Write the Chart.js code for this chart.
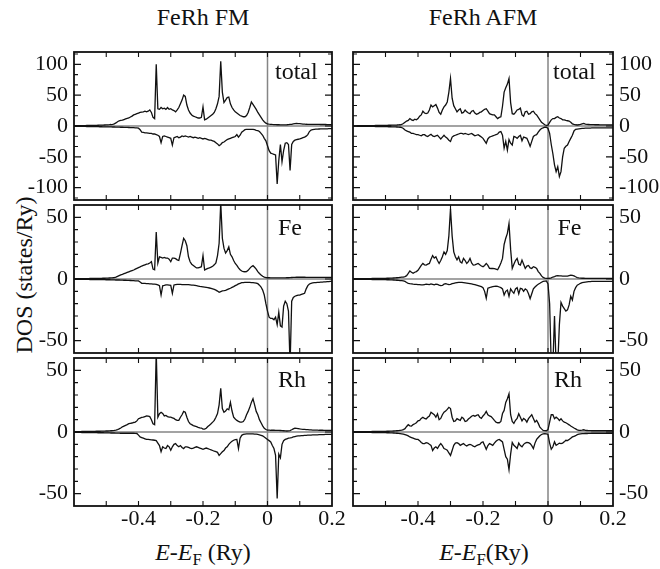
<!DOCTYPE html>
<html>
<head>
<meta charset="utf-8">
<script src="https://cdn.jsdelivr.net/npm/chart.js@4.4.1/dist/chart.umd.min.js"></script>
<style>
  body { margin: 0; background: #fff; }
  #page { position: relative; width: 660px; height: 569px; overflow: hidden; font-family: "Liberation Serif", "Times New Roman", Times, "DejaVu Serif", serif; color: #111; }
  #page canvas { position: absolute; }
  .txt { position: absolute; font-size: 24px; line-height: 24px; white-space: nowrap; text-align: center; }
  .txt sub { font-size: 70%; vertical-align: -0.3em; line-height: 0; }
</style>
</head>
<body>
<div id="page">
  <div class="txt" style="left:103px;top:5px;width:200px">FeRh FM</div>
  <div class="txt" style="left:383px;top:5px;width:200px">FeRh AFM</div>
  <div class="txt" style="left:-76px;top:263px;width:200px;transform:rotate(-90deg)">DOS (states/Ry)</div>
  <div class="txt" style="left:103px;top:540px;width:200px"><i>E</i>-<i>E</i><sub>F</sub> (Ry)</div>
  <div class="txt" style="left:384px;top:540px;width:200px"><i>E</i>-<i>E</i><sub>F</sub>(Ry)</div>
</div>
<script>
// energia relativa ao nivel de Fermi (Ry)
const energy = [
  -0.600,-0.595,-0.590,-0.585,-0.580,-0.575,-0.570,-0.565,-0.560,-0.555,
  -0.550,-0.545,-0.540,-0.535,-0.530,-0.525,-0.520,-0.515,-0.510,-0.505,
  -0.500,-0.495,-0.490,-0.485,-0.480,-0.475,-0.470,-0.465,-0.460,-0.455,
  -0.450,-0.445,-0.440,-0.435,-0.430,-0.425,-0.420,-0.415,-0.410,-0.405,
  -0.400,-0.395,-0.390,-0.385,-0.380,-0.375,-0.370,-0.365,-0.360,-0.355,
  -0.350,-0.345,-0.340,-0.335,-0.330,-0.325,-0.320,-0.315,-0.310,-0.305,
  -0.300,-0.295,-0.290,-0.285,-0.280,-0.275,-0.270,-0.265,-0.260,-0.255,
  -0.250,-0.245,-0.240,-0.235,-0.230,-0.225,-0.220,-0.215,-0.210,-0.205,
  -0.200,-0.195,-0.190,-0.185,-0.180,-0.175,-0.170,-0.165,-0.160,-0.155,
  -0.150,-0.145,-0.140,-0.135,-0.130,-0.125,-0.120,-0.115,-0.110,-0.105,
  -0.100,-0.095,-0.090,-0.085,-0.080,-0.075,-0.070,-0.065,-0.060,-0.055,
  -0.050,-0.045,-0.040,-0.035,-0.030,-0.025,-0.020,-0.015,-0.010,-0.005,
  0.000,0.005,0.010,0.015,0.020,0.025,0.030,0.035,0.040,0.045,
  0.050,0.055,0.060,0.065,0.070,0.075,0.080,0.085,0.090,0.095,
  0.100,0.105,0.110,0.115,0.120,0.125,0.130,0.135,0.140,0.145,
  0.150,0.155,0.160,0.165,0.170,0.175,0.180,0.185,0.190,0.195,
  0.200
];

// FeRh FM, total (spin up / spin down)
const fmTotUp = [
  0.5,0.5,0.5,0.6,0.6,0.6,0.7,0.7,0.8,0.8,
  0.9,0.9,1.0,1.0,1.1,1.2,1.3,1.4,1.5,1.6,
  1.7,1.9,2.1,2.4,2.8,3.5,5,7,8.5,9,
  9.5,10.5,11.5,12.5,13,14.5,16,18,19,20,
  21,22,22.5,23,24,23,24,26,22,14,
  12,100,28,27,30,28,29,27,30,27,
  28,26,25,23,26,30,36,42,50,48,
  34,26,21,18,16,15,14,13,13,14,
  31,10,11,13,15,17,19,22,28,36,
  48,105,55,38,42,46,47,36,30,26,
  23,21,19,17,16,15,15,17,22,30,
  39,35,31,27,22,18,14,10,7,4.5,
  3.5,3,2.8,2.5,2.3,2.2,2,2,1.8,1.8,
  1.8,1.9,2,2.2,2.5,2.8,3.5,4,4.2,4,
  3.8,3.5,3.2,3,2.8,2.7,2.6,2.6,2.5,2.5,
  2.5,2.5,2.5,2.4,2.4,2.4,2.4,2.3,2.3,2.3,
  2.3
];
const fmTotDn = [
  -0.5,-0.5,-0.5,-0.6,-0.6,-0.6,-0.7,-0.7,-0.8,-0.8,
  -0.9,-0.9,-1,-1,-1.1,-1.1,-1.2,-1.2,-1.3,-1.3,
  -1.4,-1.4,-1.5,-1.5,-1.6,-1.6,-1.7,-1.8,-1.9,-2,
  -2,-2.1,-2.2,-2.3,-2.4,-2.5,-2.6,-2.8,-3,-3,
  -3.5,-6,-10,-10.5,-11,-11,-11.5,-12,-12,-13,
  -13,-14,-15,-17,-27,-17,-16,-17,-18,-19,
  -20,-31,-19,-18,-17,-19,-18,-16,-17,-16,
  -17,-18,-17,-18,-19,-18,-19,-20,-19,-20,
  -21,-20,-21,-22,-23,-23,-24,-25,-27,-29,
  -32,-30,-27,-26,-24,-22,-21,-20,-19,-18,
  -17,-14,-18,-15,-10,-8,-6,-5.5,-5.4,-5.4,
  -5.4,-5.5,-6,-7,-7.5,-9,-12,-15,-20,-24,
  -32,-40,-44,-45,-46,-47,-94,-56,-30,-58,
  -40,-28,-27,-30,-72,-30,-25,-23,-22,-21.5,
  -21,-20,-19,-18,-16.5,-14,-9,-6.5,-6,-5.5,
  -5.2,-5,-4.9,-4.8,-4.7,-4.6,-4.5,-4.5,-4.4,-4.4,
  -4.3
];

// FeRh AFM, total
const afmTotUp = [
  0.3,0.3,0.3,0.4,0.4,0.4,0.5,0.5,0.5,0.6,
  0.6,0.6,0.7,0.7,0.8,0.8,0.9,0.9,1,1,
  1.1,1.1,1.2,1.2,1.3,1.4,1.5,1.6,1.8,2,
  2.5,4,6,8,9,12,10,9,11,10,
  12,16,18,24,21,20,21,26,34,31,
  33,35,29,22,19,26,31,34,39,55,
  77,45,33,28,23,26,28,21,22,26,
  23,21,20,24,25,21,19,20,22,23,
  25,27,28,24,20,19,18,18,15,12,
  14,15,32,55,62,68,77,38,20,19,
  22,26,27,29,18,16,23,24,19,20,
  23,24,20,18,14,10,6,4,2,1,
  1.5,6,10,12,12,14,15,13,12,10,
  10,9,8.5,8,6,3.5,2.5,2,1.6,2,
  2.5,3.5,4.2,3,2.5,2.4,2.3,2.2,2.1,2,
  2,2,1.9,1.9,1.9,1.8,1.8,1.8,1.8,1.8,
  1.8
];
const afmTotDn = [
  -0.3,-0.3,-0.3,-0.4,-0.4,-0.4,-0.5,-0.5,-0.5,-0.6,
  -0.6,-0.6,-0.7,-0.7,-0.8,-0.8,-0.9,-0.9,-1,-1,
  -1.1,-1.1,-1.2,-1.2,-1.3,-1.4,-1.5,-1.6,-1.8,-2,
  -2.5,-4,-6.5,-8,-9,-10,-12,-12,-13,-14,
  -14,-15,-16,-14,-14,-16,-17,-15,-13.5,-16,
  -17,-16,-15,-18,-21,-18,-15,-18,-20,-23,
  -25,-18,-16,-15,-14,-13,-12,-12,-13,-12,
  -13,-14,-13,-12,-14,-16,-15,-14,-16,-18,
  -20,-24,-28,-21,-18,-17,-16,-15,-14,-13,
  -10,-9,-15,-36,-25,-39,-22,-28,-31,-17,
  -18,-20,-17,-15,-24,-18,-19,-20,-26,-33,
  -25,-17,-15,-14,-10,-6.5,-4,-3,-2,-2,
  -4,-12,-30,-45,-63,-74,-66,-82,-74,-50,
  -36,-33,-31,-25,-20,-15,-8,-5.5,-5,-4.5,
  -4.2,-4,-3.8,-3.6,-3.5,-3.4,-3.3,-3.2,-3.1,-3,
  -3,-3,-3,-3,-3,-3,-3,-3,-3,-3,
  -3
];

// FeRh FM, Fe
const fmFeUp = [
  0.2,0.2,0.2,0.2,0.3,0.3,0.3,0.3,0.3,0.3,
  0.4,0.4,0.4,0.4,0.4,0.5,0.5,0.5,0.6,0.6,
  0.7,0.7,0.8,0.9,1,1.2,1.6,2.2,2.8,3.4,
  3.8,4.3,4.8,5.3,5.8,6.3,6.8,7.3,8,8.6,
  9.2,9.8,10.5,11,11.5,12,12.3,13,14,8,
  7.5,38,13,18,17.5,17,17.5,17,17,16,
  14,17,17,16.5,15.5,15,20.7,27,33,31,
  27,18,14,12,11,10,9,9,9.5,10,
  19,7.3,8,8.6,9,9.6,10.3,11.5,13,19,
  29,62,33,25,21,23,26,20,18,15,
  12.6,11,9,7.5,6.5,6,5.9,6,7,8.6,
  10,10.8,9.5,8,6,4.5,3.2,2.2,1.5,1.2,
  1,1,0.9,0.9,0.9,0.9,0.9,0.9,0.9,0.9,
  0.9,0.9,1,1,1.1,1.2,1.3,1.3,1.4,1.4,
  1.4,1.4,1.4,1.4,1.3,1.3,1.3,1.3,1.3,1.3,
  1.3,1.3,1.3,1.3,1.3,1.3,1.3,1.3,1.3,1.3,
  1.3
];
const fmFeDn = [
  -0.2,-0.2,-0.2,-0.2,-0.3,-0.3,-0.3,-0.3,-0.3,-0.3,
  -0.4,-0.4,-0.4,-0.4,-0.4,-0.5,-0.5,-0.5,-0.5,-0.5,
  -0.6,-0.6,-0.6,-0.7,-0.7,-0.7,-0.8,-0.8,-0.8,-0.9,
  -0.9,-1,-1,-1.1,-1.1,-1.2,-1.3,-1.4,-1.5,-1.6,
  -1.6,-2.5,-3.5,-3.6,-3.6,-3.7,-3.8,-3.9,-4,-4.1,
  -4.2,-4.3,-4.8,-5.4,-13,-5.5,-5.2,-4.8,-4.8,-5,
  -5.2,-11.6,-4.8,-4.5,-4.3,-4.3,-4.4,-4.6,-4.5,-4.5,
  -4.5,-4.6,-4.7,-4.9,-5,-5.2,-5.4,-5.7,-6,-6.2,
  -6.4,-6.6,-6.8,-7,-7.3,-7.6,-8,-8.4,-9,-9.8,
  -10.8,-10.2,-9.7,-9.5,-9.2,-8.6,-8,-7.5,-6.8,-6.2,
  -5.4,-4.8,-4,-3.5,-3,-2.9,-2.8,-2.8,-2.8,-2.8,
  -2.9,-3,-3.1,-3.3,-3.8,-5,-6.5,-9,-13,-20,
  -26,-31,-32,-32,-33,-31,-37,-27,-38,-39,
  -22,-18,-20,-26,-70,-18,-15,-14,-13.5,-13,
  -13,-12.5,-12,-11.6,-8,-5.4,-4,-3.5,-3.2,-3,
  -2.9,-2.8,-2.7,-2.6,-2.5,-2.4,-2.3,-2.2,-2.1,-2,
  -2
];

// FeRh AFM, Fe
const afmFeUp = [
  0.2,0.2,0.2,0.2,0.2,0.3,0.3,0.3,0.3,0.3,
  0.3,0.3,0.4,0.4,0.4,0.4,0.4,0.5,0.5,0.5,
  0.5,0.6,0.6,0.7,0.7,0.8,0.9,1,1.1,1.3,
  1.5,1.6,2,2.7,4.5,6.5,5.5,4.6,5.5,6,
  7,9,11,12.6,11.5,11.3,12,12.6,16,19,
  17,18,15,12.6,15,18,22,20,23,35,
  57,35,22,18,15.5,18,14,13,16.7,15,
  12.6,14,16.7,13,11.3,11.5,12,12.6,11.5,10.5,
  10,11,12.6,11,8.6,8.5,8.6,8.4,8,7.5,
  10,13,16.7,28,33,37,45,24,8.6,12,
  15,16.7,12,11.3,15.3,12,8.6,10.5,11,9,
  8.6,10,9.5,8.6,6,4.6,2.5,1.3,0.8,0.5,
  0.5,0.6,1,1.6,2,2.5,2.7,2.6,2.5,2.4,
  2.3,2.3,2.4,2.8,3.2,3,2.5,1.8,1.2,0.9,
  0.7,0.6,0.6,0.5,0.5,0.5,0.5,0.5,0.5,0.5,
  0.5,0.5,0.5,0.5,0.5,0.5,0.5,0.5,0.5,0.5,
  0.5
];
const afmFeDn = [
  -0.2,-0.2,-0.2,-0.2,-0.2,-0.3,-0.3,-0.3,-0.3,-0.3,
  -0.3,-0.3,-0.4,-0.4,-0.4,-0.4,-0.4,-0.5,-0.5,-0.5,
  -0.5,-0.6,-0.6,-0.7,-0.7,-0.8,-0.9,-1,-1.1,-1.3,
  -1.4,-1.6,-2,-2.8,-3.5,-3.8,-4,-4.2,-4.3,-4.3,
  -4.5,-4.6,-4.8,-4.8,-4.5,-4.2,-4.3,-4.6,-4,-4.4,
  -4.8,-4.2,-4.3,-4.9,-5.4,-5.2,-4.2,-3.8,-4.2,-4.5,
  -4.3,-3.8,-3.5,-3.2,-2.9,-2.7,-2.7,-2.8,-3,-3.2,
  -3.4,-3.6,-3.8,-4,-4.3,-4.6,-5,-5.4,-5.8,-6.2,
  -7,-10,-15.6,-7.5,-7,-6.5,-6.2,-6,-5.8,-6,
  -6.5,-7,-8,-13,-10,-9,-14,-8,-10,-11.6,
  -8,-7,-12,-7.5,-8,-10,-8,-9,-12,-16,
  -12,-8,-6.5,-5.2,-4.3,-3.5,-2.6,-2,-1.8,-1.6,
  -4,-20,-70,-70,-30,-70,-70,-37,-19,-22,
  -24,-26,-25,-21,-14,-17,-10,-7,-5,-4.3,
  -3.5,-3,-2.7,-2.5,-2.3,-2.2,-2.1,-2,-2,-2,
  -2,-2,-2,-2,-2,-2,-2,-2,-2,-2,
  -2
];

// FeRh FM, Rh
const fmRhUp = [
  0.3,0.3,0.3,0.3,0.3,0.4,0.4,0.4,0.4,0.4,
  0.5,0.5,0.5,0.5,0.6,0.6,0.6,0.7,0.7,0.7,
  0.8,0.8,0.9,1,1.1,1.3,1.6,2,2.5,3.3,
  4.2,4.8,5.4,6,6.7,7,7.3,7.7,8,9,
  10.8,11.3,11.8,12,12.5,13,12.8,12.5,10,6.7,
  6,65,12,14.8,16,15,13,13.4,12.5,12,
  12,11.5,11,10,9.4,9.4,12,14,16.7,16,
  12,8.5,6.7,6,5.2,4.8,4.3,3.8,3.4,3.2,
  2.4,2.3,3,4.5,5.5,6.7,8,9.4,12,15,
  22,35.5,19,16,17,18.8,18,24,17,12,
  10.5,9.4,8.6,8,8,8.5,10.5,14,16.7,20,
  24,27,22,16.7,14,10,7.5,5,3,2,
  1.6,1.5,1.4,1.4,1.4,1.3,1.3,1.3,1.2,1.1,
  1,0.9,0.8,0.9,1.2,1.8,2.5,3.2,3,2.8,
  2.5,2.3,2.2,2.1,2,1.9,1.8,1.7,1.6,1.6,
  1.5,1.5,1.4,1.4,1.4,1.3,1.3,1.3,1.3,1.3,
  1.3
];
const fmRhDn = [
  -0.3,-0.3,-0.3,-0.3,-0.3,-0.4,-0.4,-0.4,-0.4,-0.4,
  -0.5,-0.5,-0.5,-0.5,-0.5,-0.6,-0.6,-0.6,-0.6,-0.7,
  -0.7,-0.7,-0.7,-0.8,-0.8,-0.8,-0.9,-0.9,-0.9,-1,
  -1,-1,-1,-1,-1,-1,-1,-1,-1.1,-1.2,
  -2.5,-4,-4.5,-5,-5.5,-6,-6,-6.2,-6.4,-6.5,
  -6.7,-7,-9,-11,-16,-12,-13,-13.4,-11,-12,
  -14.8,-12,-10,-9.4,-11,-12,-11,-12.5,-13.4,-12,
  -12,-12.5,-13,-13.4,-13,-12.5,-12,-12.5,-13,-13.5,
  -14,-13.5,-13,-13.5,-14,-14.5,-15,-15.6,-16,-16.5,
  -19,-17.5,-16,-15,-13,-12,-10,-8.6,-7.5,-6.7,
  -6.2,-6,-13.4,-5,-2.7,-2,-1.7,-1.6,-1.6,-1.6,
  -1.6,-1.6,-1.7,-1.8,-2,-2.3,-2.7,-3.2,-4,-5,
  -6,-7,-8,-11,-13.4,-19,-54,-18,-21,-10,
  -7,-6,-5.5,-5,-4.8,-4.5,-4,-3.7,-3.4,-3.2,
  -3.1,-3,-2.9,-2.8,-2.7,-2.6,-2.5,-2.5,-2.4,-2.4,
  -2.3,-2.3,-2.2,-2.2,-2.1,-2.1,-2,-2,-2,-2,
  -2
];

// FeRh AFM, Rh
const afmRhUp = [
  0.2,0.2,0.2,0.2,0.2,0.3,0.3,0.3,0.3,0.3,
  0.3,0.3,0.4,0.4,0.4,0.4,0.4,0.5,0.5,0.5,
  0.5,0.6,0.6,0.7,0.7,0.8,0.9,1,1.1,1.3,
  1.5,2,2.7,4.5,5.9,5,4.8,6,6.7,7.5,
  9,9.4,11,12,11,10.5,12,13,16,15,
  14,12,14.8,10,11,14,16,17,18.3,20,
  19,12,8.5,9,10.8,10,9.4,12,11,8.5,
  9,10.5,11.5,12.8,13.4,12.8,13.5,14,12,11,
  13,14.5,16.7,14,13,12.5,11,9.4,8,7.5,
  7.5,8.6,15,17.5,24,27,31,14,8.5,7,
  9.5,11,14.8,12,9,11,10,8,10.8,12.5,
  14,11,8,9.4,7,4,2.5,1.3,1.1,1,
  2,8,14,14,10.8,12,11,9.4,10.8,9,
  8,7.5,6.7,5.8,4.8,4,3.2,2.5,1.8,1.4,
  1.3,1.5,1.8,1.3,1.2,1.1,1.1,1,1,1,
  1,1,1,1,1,1,1,1,1,1,
  1
];
const afmRhDn = [
  -0.2,-0.2,-0.2,-0.2,-0.2,-0.3,-0.3,-0.3,-0.3,-0.3,
  -0.3,-0.3,-0.4,-0.4,-0.4,-0.4,-0.4,-0.5,-0.5,-0.5,
  -0.5,-0.6,-0.6,-0.7,-0.7,-0.8,-0.9,-1,-1.1,-1.3,
  -1.5,-1.8,-2.2,-2.6,-3.2,-4,-4.5,-5,-5.5,-6,
  -6,-7,-8.5,-9.4,-9.4,-8.6,-9,-10,-10.8,-15,
  -13,-12,-13.4,-11,-9.4,-11,-13.4,-14,-14.8,-17,
  -19,-15,-10.8,-9,-8.6,-9.4,-10.8,-10,-9.4,-10.5,
  -11.3,-10.5,-10,-10.5,-11.5,-12,-11,-10.5,-10,-8.5,
  -8,-11,-14,-11,-9.4,-10,-10.8,-9,-7.5,-6.5,
  -6,-7,-8,-14,-20,-22,-30.6,-18,-8.5,-10.8,
  -12,-13.4,-9,-11,-12,-10,-9,-8.5,-8.6,-9.4,
  -11,-13.4,-9,-6,-4.5,-3,-2,-1.5,-1.3,-1.5,
  -2,-9,-14,-12,-8,-10.8,-10,-9,-9.4,-9,
  -8,-6.7,-7,-6,-5,-4,-3.5,-3,-2.2,-1.8,
  -1.5,-1.3,-1.3,-1.2,-1.2,-1.1,-1.1,-1,-1,-1,
  -1,-1,-1,-1,-1,-1,-1,-1,-1,-1,
  -1
];

// ticks
const xTickLabels = [-0.4, -0.2, 0, 0.2];
const xTickMarks = [-0.5, -0.4, -0.3, -0.2, -0.1, 0, 0.1];
const yTickLabelsTotal = [-100, -50, 0, 50, 100];
const yTickLabelsPartial = [-50, 0, 50];

const serif = '"Liberation Serif", "Times New Roman", Times, "DejaVu Serif", serif';
Chart.defaults.font.family = serif;
Chart.defaults.color = '#111';

// layout das colunas e linhas
const columns = [
  { left: 0, width: 348, side: 'left', axisWidth: 74, padLeft: 0, padRight: 16 },
  { left: 349, width: 311, side: 'right', axisWidth: 47, padLeft: 4, padRight: 0 }
];
const rows = [
  { top: 48, height: 156, limit: 120, labels: yTickLabelsTotal, minorStep: 50 / 3, perMajor: 3, minorCount: 7, bottom: false },
  { top: 201, height: 156, limit: 60, labels: yTickLabelsPartial, minorStep: 10, perMajor: 5, minorCount: 5, bottom: false },
  { top: 354, height: 192, limit: 60, labels: yTickLabelsPartial, minorStep: 10, perMajor: 5, minorCount: 5, bottom: true }
];

const panels = [
  { col: 0, row: 0, up: fmTotUp, dn: fmTotDn, label: 'total', dx: 7.5, dy: 27 },
  { col: 1, row: 0, up: afmTotUp, dn: afmTotDn, label: 'total', dx: 5, dy: 27 },
  { col: 0, row: 1, up: fmFeUp, dn: fmFeDn, label: 'Fe', dx: 10.5, dy: 30 },
  { col: 1, row: 1, up: afmFeUp, dn: afmFeDn, label: 'Fe', dx: 9.5, dy: 30 },
  { col: 0, row: 2, up: fmRhUp, dn: fmRhDn, label: 'Rh', dx: 10.5, dy: 29 },
  { col: 1, row: 2, up: afmRhUp, dn: afmRhDn, label: 'Rh', dx: 6, dy: 29 }
];

// moldura, linhas de zero, ticks internos e rotulo do painel
const panelFrame = {
  id: 'panelFrame',
  beforeDatasetsDraw(chart) {
    const { ctx, chartArea: a } = chart;
    const x0 = chart.scales.x.getPixelForValue(0);
    const y0 = chart.scales.y.getPixelForValue(0);
    ctx.save();
    ctx.strokeStyle = '#858585';
    ctx.lineWidth = 1.5;
    ctx.beginPath();
    ctx.moveTo(a.left, y0); ctx.lineTo(a.right, y0);
    ctx.moveTo(x0, a.top); ctx.lineTo(x0, a.bottom);
    ctx.stroke();
    ctx.restore();
  },
  afterDatasetsDraw(chart, args, opts) {
    const { ctx, chartArea: a } = chart;
    const xs = chart.scales.x, ys = chart.scales.y;
    ctx.save();
    ctx.strokeStyle = '#111';
    ctx.lineWidth = 1.1;
    ctx.beginPath();
    xTickMarks.forEach(v => {
      const px = xs.getPixelForValue(v);
      ctx.moveTo(px, a.top); ctx.lineTo(px, a.top + 5);
      ctx.moveTo(px, a.bottom); ctx.lineTo(px, a.bottom - 5);
    });
    for (let k = -opts.minorCount; k <= opts.minorCount; k++) {
      const py = ys.getPixelForValue(k * opts.minorStep);
      const len = k % opts.perMajor === 0 ? 7 : 4;
      ctx.moveTo(a.left, py); ctx.lineTo(a.left + len, py);
      ctx.moveTo(a.right, py); ctx.lineTo(a.right - len, py);
    }
    ctx.stroke();
    ctx.lineWidth = 1.8;
    ctx.strokeRect(a.left, a.top, a.right - a.left, a.bottom - a.top);
    ctx.fillStyle = '#111';
    ctx.font = '24px ' + serif;
    ctx.textBaseline = 'alphabetic';
    ctx.fillText(opts.label, xs.getPixelForValue(0) + opts.dx, a.top + opts.dy);
    ctx.restore();
  }
};

const page = document.getElementById('page');
panels.forEach(p => {
  const col = columns[p.col], row = rows[p.row];
  const canvas = document.createElement('canvas');
  canvas.width = col.width;
  canvas.height = row.height;
  canvas.style.left = col.left + 'px';
  canvas.style.top = row.top + 'px';
  page.appendChild(canvas);

  new Chart(canvas.getContext('2d'), {
    type: 'line',
    data: {
      datasets: [p.up, p.dn].map(values => ({
        data: energy.map((e, i) => ({ x: e, y: values[i] })),
        borderColor: '#111',
        borderWidth: 1.3,
        pointRadius: 0,
        tension: 0,
        fill: false
      }))
    },
    options: {
      responsive: false,
      animation: false,
      events: [],
      layout: { padding: { left: col.padLeft, right: col.padRight, top: 4, bottom: row.bottom ? 0 : 4 } },
      plugins: {
        legend: { display: false },
        tooltip: { enabled: false },
        panelFrame: { label: p.label, dx: p.dx, dy: p.dy, minorStep: row.minorStep, perMajor: row.perMajor, minorCount: row.minorCount }
      },
      scales: {
        x: {
          type: 'linear',
          min: -0.6,
          max: 0.2,
          display: row.bottom,
          grid: { display: false, drawTicks: false },
          border: { display: false },
          ticks: { font: { size: 22 }, color: '#111', padding: 0, maxRotation: 0, autoSkip: false, callback: v => String(v) },
          afterBuildTicks: s => { s.ticks = xTickLabels.map(v => ({ value: v })); },
          afterFit: s => {
            if (row.bottom) s.height = 40;
            s.paddingLeft = 0;
            s.paddingRight = 0;
          }
        },
        y: {
          position: col.side,
          min: -row.limit,
          max: row.limit,
          grid: { display: false, drawTicks: false },
          border: { display: false },
          ticks: { font: { size: 22 }, color: '#111', padding: 6, callback: v => String(v) },
          afterBuildTicks: s => { s.ticks = row.labels.map(v => ({ value: v })); },
          afterFit: s => { s.width = col.axisWidth; s.paddingTop = 0; s.paddingBottom = 0; }
        }
      }
    },
    plugins: [panelFrame]
  });
});
</script>
</body>
</html>
